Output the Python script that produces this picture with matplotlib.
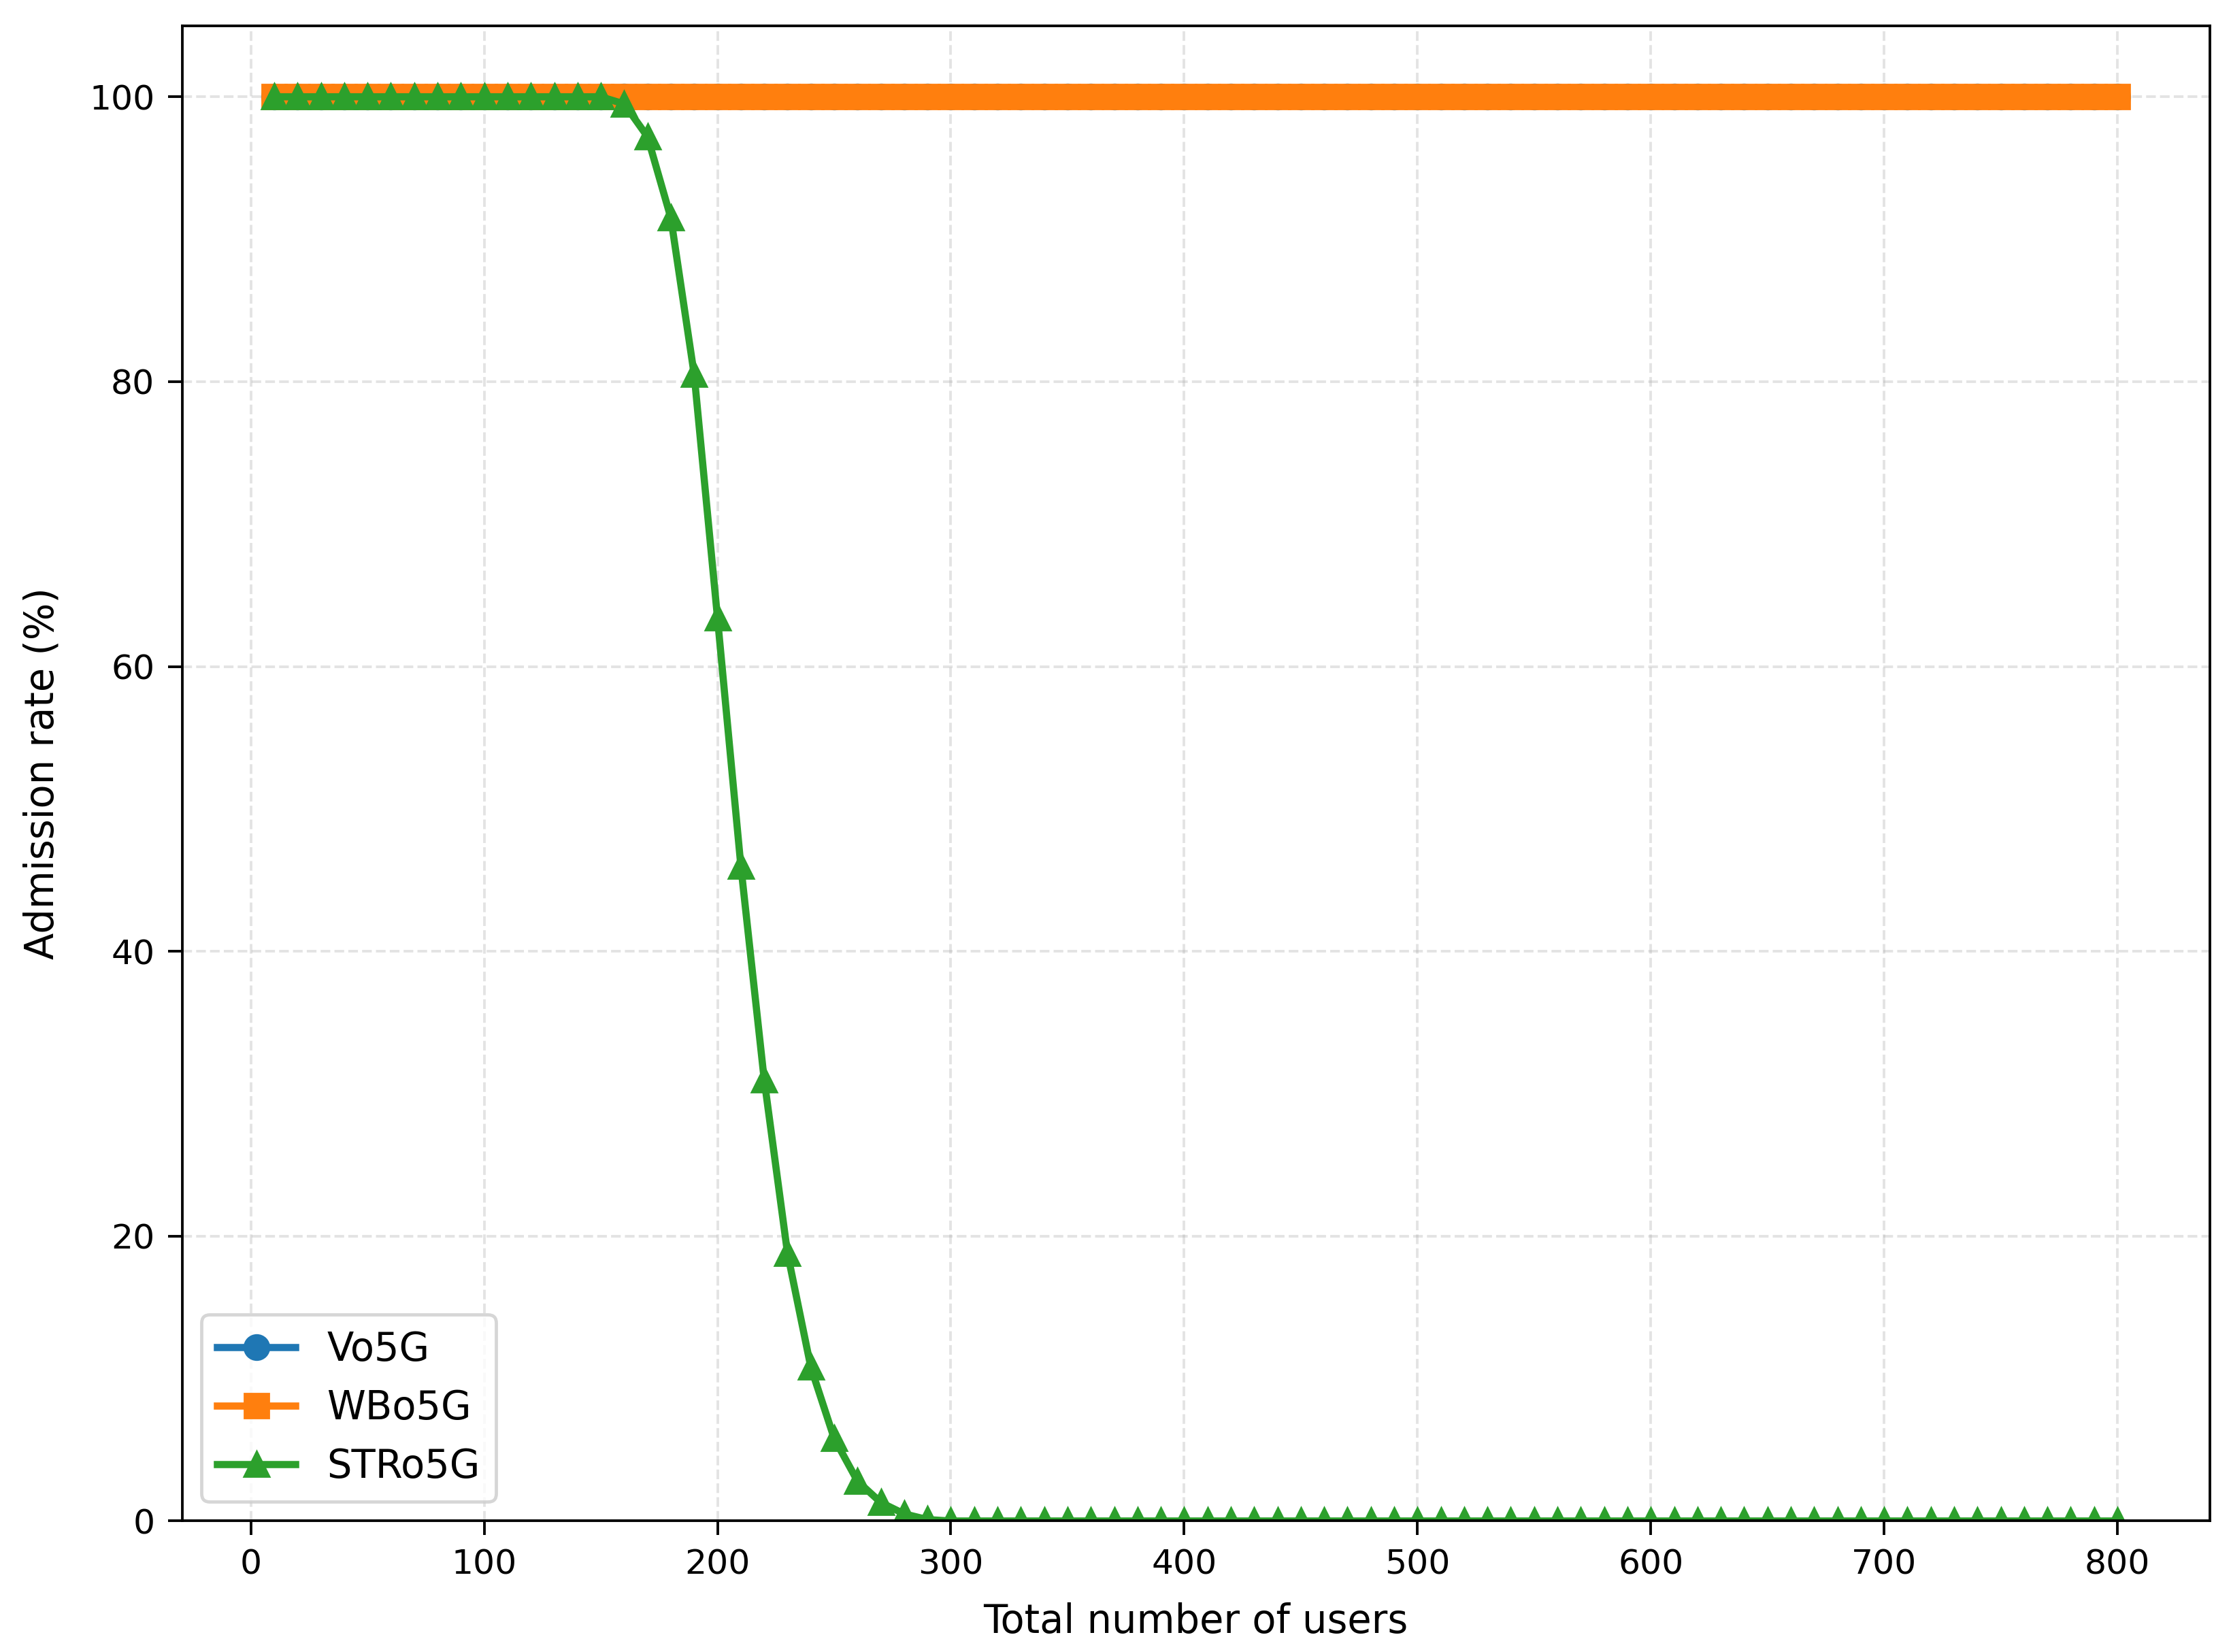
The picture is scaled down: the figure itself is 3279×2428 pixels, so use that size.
import numpy as np
import matplotlib
matplotlib.use("Agg")
import matplotlib.pyplot as plt

users = np.arange(10, 801, 10)

vo5g = [100.0] * len(users)
wbo5g = [100.0] * len(users)

# STRo5G: flat at 100, drops between 160 and 290 users, then 0
str_head = [100.0] * 15  # 10 .. 150
str_drop = [99.5, 97.2, 91.5, 80.5, 63.4, 46.0, 31.0, 18.8, 10.8, 5.8, 2.8, 1.3, 0.5, 0.1]  # 160 .. 290
str_tail = [0.0] * (len(users) - len(str_head) - len(str_drop))
stro5g = str_head + str_drop + str_tail

fig = plt.figure(figsize=(9.5, 9.5 * 2428 / 3279), dpi=3279 / 9.5)
ax = fig.add_subplot(111)
fig.subplots_adjust(left=0.0816, right=0.9904, top=0.9845, bottom=0.0793)

ax.plot(users, vo5g, marker="o", ms=7.2, lw=2.2, label="Vo5G")
ax.plot(users, wbo5g, marker="s", ms=7.2, lw=2.2, label="WBo5G")
ax.plot(users, stro5g, marker="^", ms=7.2, lw=2.2, label="STRo5G")

ax.set_ylim(0, 105)
ax.tick_params(labelsize=10.5, length=4.4, pad=4)
ax.set_xlabel("Total number of users", fontsize=12, labelpad=6.5)
ax.set_ylabel("Admission rate (%)", fontsize=12, labelpad=8.5)
ax.grid(True, linestyle="--", alpha=0.35)
ax.legend(loc="lower left", fontsize=12)

fig.savefig("out.png")
